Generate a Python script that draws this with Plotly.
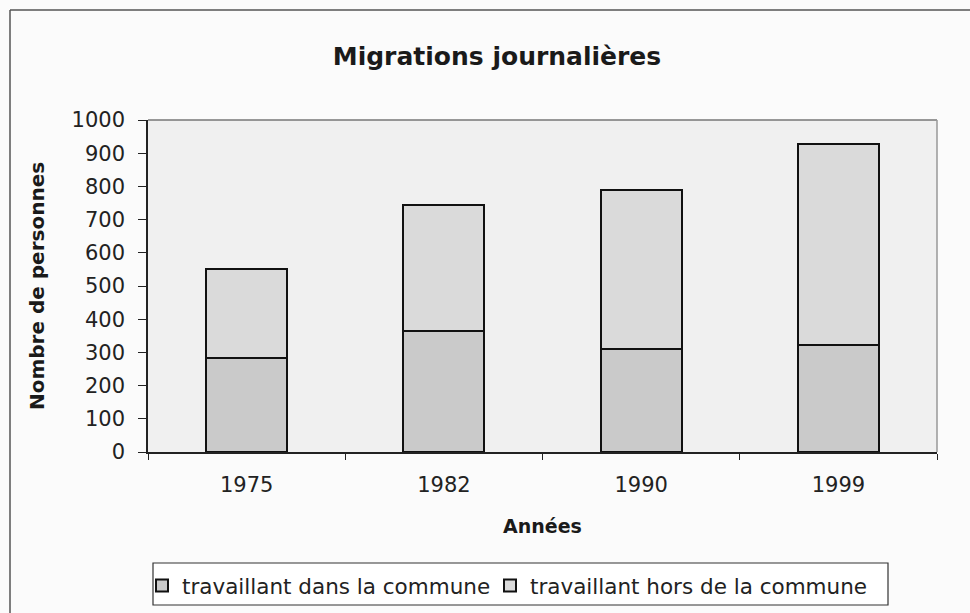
import plotly.graph_objects as go

years = ["1975", "1982", "1990", "1999"]
dans_commune = [283, 363, 310, 321]
hors_commune = [269, 382, 479, 607]
y_ticks = [0, 100, 200, 300, 400, 500, 600, 700, 800, 900, 1000]

W, H = 970, 613
L, R, T, B = 148, 937, 120, 452  # plot area in pixels


def px(x):
    return (x - L) / (R - L)


def py(y):
    return (B - y) / (B - T)


FONT = "DejaVu Sans, Arial, sans-serif"

fig = go.Figure()
fig.add_trace(go.Bar(
    x=years, y=dans_commune, name="travaillant dans la commune",
    marker=dict(color="#cacaca", line=dict(color="#111111", width=2)),
    width=0.41, legend="legend",
))
fig.add_trace(go.Bar(
    x=years, y=hors_commune, name="travaillant hors de la commune",
    marker=dict(color="#dadada", line=dict(color="#111111", width=2)),
    width=0.41, legend="legend2",
))

leg_common = dict(
    orientation="h", xanchor="left", yanchor="top", y=py(565),
    borderwidth=0, bgcolor="rgba(0,0,0,0)",
    font=dict(size=21.5, color="#222222"), itemwidth=30,
)

fig.update_layout(
    width=W, height=H,
    barmode="stack",
    paper_bgcolor="#fbfbfb",
    plot_bgcolor="#f0f0f0",
    margin=dict(l=L, r=W - R, t=T, b=H - B, pad=0, autoexpand=False),
    font=dict(family=FONT, color="#222222"),
    title=dict(text="<b>Migrations journalières</b>", x=497 / W, xanchor="center",
               y=1 - 56 / H, yanchor="middle", font=dict(size=25, color="#1a1a1a")),
    showlegend=True,
    legend=dict(leg_common, x=px(182 - 40)),
    legend2=dict(leg_common, x=px(530 - 40)),
    xaxis=dict(
        type="category", showline=True, linecolor="#222222", linewidth=1.5,
        ticks="outside", tickson="boundaries", ticklen=6, tickcolor="#222222",
        ticklabelstandoff=13, automargin=False,
        tickfont=dict(size=21, color="#222222"),
        title=dict(text="<b>Années</b>", font=dict(size=19, color="#1a1a1a"), standoff=24),
        showgrid=False,
    ),
    yaxis=dict(
        range=[0, 1000], tickvals=y_ticks, showline=True, linecolor="#222222", linewidth=1.5,
        ticks="outside", ticklen=8, tickcolor="#222222",
        ticklabelstandoff=9, automargin=False,
        tickfont=dict(size=21, color="#222222"),
        title=dict(text="<b>Nombre de personnes</b>", font=dict(size=20, color="#1a1a1a"), standoff=22),
        showgrid=False, zeroline=False,
    ),
)

# plot area upper/right frame (gray)
fig.add_shape(type="line", xref="paper", yref="paper", x0=0, x1=1, y0=1, y1=1,
              line=dict(color="#777777", width=1.5))
fig.add_shape(type="line", xref="paper", yref="paper", x0=1, x1=1, y0=0, y1=1,
              line=dict(color="#999999", width=1.5))
# legend frame
fig.add_shape(type="rect", xref="paper", yref="paper", x0=px(153), x1=px(888), y0=py(563), y1=py(605),
              line=dict(color="#333333", width=1.2), fillcolor="#ffffff", layer="below")
# outer chart border (top and left visible)
fig.add_shape(type="line", xref="paper", yref="paper", x0=px(10), x1=px(972), y0=py(10), y1=py(10),
              line=dict(color="#555555", width=1.5))
fig.add_shape(type="line", xref="paper", yref="paper", x0=px(10), x1=px(10), y0=py(10), y1=py(615),
              line=dict(color="#555555", width=1.5))

fig.write_html("out.html", config={"displayModeBar": False},
               post_script="document.body.style.margin='0';")
